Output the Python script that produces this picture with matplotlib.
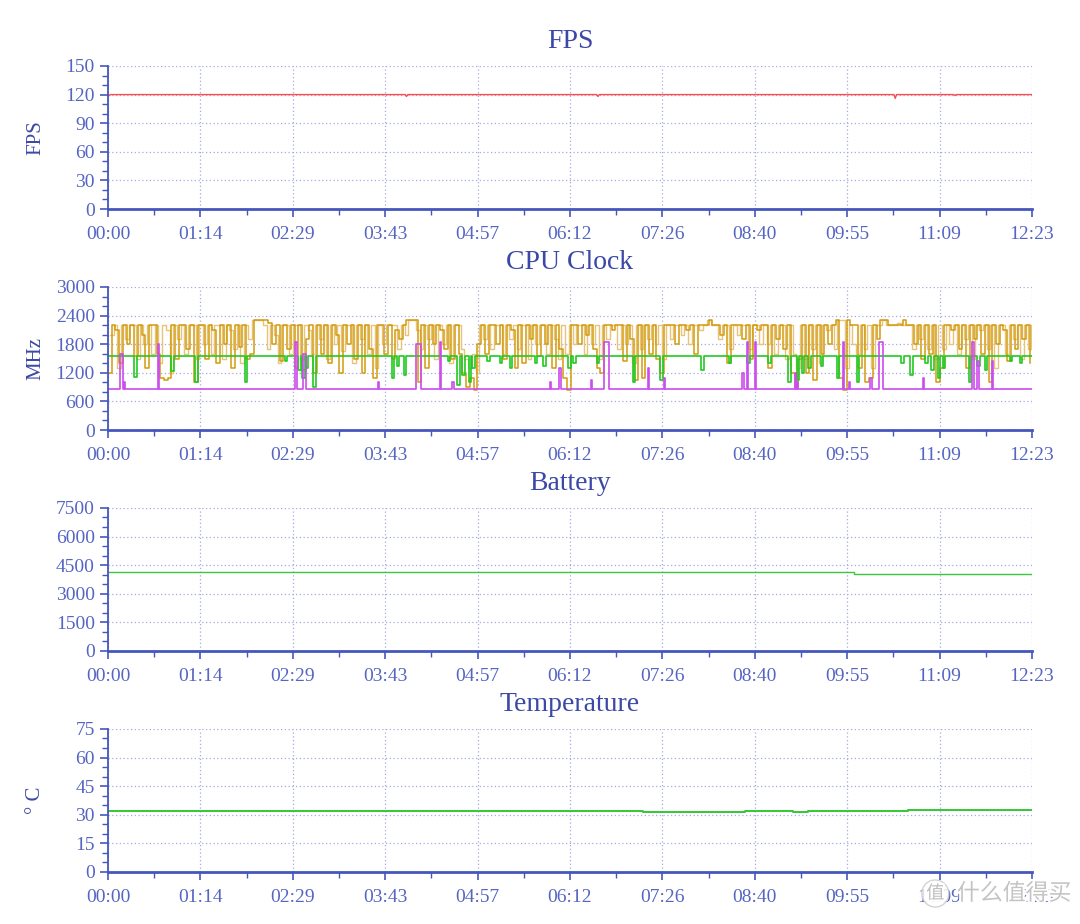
import matplotlib
matplotlib.use("Agg")
import matplotlib.pyplot as plt
import matplotlib.patheffects as pe
from matplotlib.ticker import AutoMinorLocator, MultipleLocator
import numpy as np

# ---- data (seconds since start) ----
duration = 743
x_ticklabels = ["00:00", "01:14", "02:29", "03:43", "04:57", "06:12",
                "07:26", "08:40", "09:55", "11:09", "12:23"]

fps_base = 120
fps_dip_t = [1, 240, 394, 633, 681]
fps_dip_v = [119, 118, 118, 116, 119]

# big core clock, sampled every 3 s
gold_step = 3
gold_v = [
    1200, 2200, 2100, 1400, 2200, 1800, 2200, 1550, 2200, 2000, 1300, 2200, 2200,
    1600, 1100, 1050, 1100, 2200, 1500, 2200, 2200, 1700, 2200, 1000, 2200,
    2200, 1500, 2200, 2100, 1400, 2200, 1800, 2200, 1300, 2200, 1750, 2200, 1500,
    1600, 2300, 2300, 2300, 2300, 2250, 1800, 2200, 1450, 2200, 1700, 2200,
    1300, 2200, 1250, 1900, 2200, 1200, 2200, 1600, 2200, 1400, 2200, 2000, 1200,
    2200, 1800, 2200, 1500, 2200, 1200, 2200, 1700, 1100, 2200, 2200, 1600,
    2200, 1500, 2100, 1900, 2200, 2300, 2300, 2300, 1000, 2200, 1300, 2200, 1800,
    2200, 2100, 1700, 2200, 1500, 2200, 1600, 1200, 900, 1100, 850, 1800,
    2200, 1600, 2200, 2200, 1800, 2200, 1500, 2200, 2100, 1300, 2200, 1400, 2200,
    1900, 2200, 1550, 2200, 1800, 2200, 1300, 2200, 1700, 1100, 850, 2200,
    2200, 1800, 2200, 2000, 2200, 1700, 1300, 1200, 2200, 2200, 2100, 2200, 2200,
    1450, 2200, 1900, 1050, 2200, 1100, 2200, 1600, 2200, 1500, 1200, 2200,
    2200, 2200, 1800, 2200, 2200, 2100, 2200, 1600, 2200, 2200, 2200, 2300, 2200,
    2200, 2000, 2200, 1400, 2200, 2200, 2200, 1900, 2200, 1500, 2200, 2100,
    2200, 2200, 1300, 2200, 1900, 2200, 1700, 2200, 1200, 900, 1500, 2200, 1200,
    2200, 1050, 2200, 1600, 2200, 1800, 2200, 2300, 1100, 850, 2300, 2200,
    2200, 1300, 2200, 1000, 1100, 2200, 1900, 2300, 2300, 2200, 2200, 2200, 2200,
    2300, 2200, 2200, 1800, 2200, 1500, 2200, 1600, 2200, 1000, 1300, 2200,
    2200, 2100, 2200, 1700, 2200, 1300, 2200, 1900, 2200, 1600, 2200, 1000, 2200,
    1800, 2200, 2100, 1450, 2200, 1700, 2200, 1900, 2200, 1400,
]

# second big core (lighter trace), same 3 s step, offset by 1.5 s
tan_offset = 1.5
tan_v = [
    2000, 2200, 1300, 2200, 1900, 2200, 2200, 1500, 2200, 1800, 2200, 1600, 2200,
    1400, 2200, 2100, 1200, 2200, 1900, 2200, 1600, 2200, 2200, 1500, 2200,
    1800, 2200, 1600, 2200, 2200, 1500, 2200, 2100, 1700, 2200, 1400, 2200, 1900,
    2300, 2300, 2300, 2200, 1700, 2200, 2000, 1400, 2200, 2200, 1600, 2200,
    2200, 1500, 2200, 2100, 1600, 2200, 1900, 2200, 1500, 2200, 1800, 2200, 1650,
    2200, 2200, 1400, 2200, 1900, 2200, 1600, 2200, 1300, 2200, 1800, 2200,
    2200, 2200, 1700, 2200, 2000, 2300, 2300, 2100, 1700, 2200, 1900, 2200, 1500,
    2200, 1800, 2200, 1400, 2200, 2200, 1700, 1500, 1300, 1600, 1200, 2200,
    1900, 2200, 1700, 2200, 2200, 1600, 2200, 1900, 2200, 1700, 2200, 2200, 1500,
    2200, 1800, 2200, 2200, 1600, 2200, 1900, 1500, 2200, 1600, 2200, 1800,
    2200, 2200, 1600, 2200, 1800, 2200, 1500, 2200, 1900, 2200, 2200, 1700, 2200,
    1800, 2200, 1400, 2200, 1700, 2200, 1900, 2200, 1800, 2200, 1500, 2200,
    1900, 2200, 2200, 2000, 2200, 1800, 2200, 2200, 2100, 2200, 2300, 2200, 2200,
    1900, 2200, 2200, 1700, 2200, 2000, 2200, 2200, 1700, 2200, 2200, 1800,
    2200, 1800, 2200, 1600, 2200, 2200, 1500, 2200, 1600, 1300, 2200, 1500, 2200,
    1700, 2200, 1400, 2200, 2100, 2200, 1700, 2300, 2300, 1300, 2200, 1800,
    1600, 2200, 1700, 2200, 1300, 2200, 2200, 2300, 2200, 2200, 2200, 2250, 2200,
    2200, 2200, 1700, 2200, 1900, 2200, 1700, 2200, 1500, 2200, 1700, 2200,
    1800, 2200, 1600, 2200, 1900, 2200, 1500, 2200, 2100, 2200, 1700, 2200, 1300,
    2200, 2200, 1600, 2200, 1900, 2200, 1500, 2200, 1700, 2200,
]

green_base = 1555
green_dip_t = [21, 51, 70, 110, 142, 153, 156, 159, 165, 228, 232, 238, 273, 281,
               285, 290, 293, 305, 315, 323, 343, 350, 370, 374, 393, 422, 444,
               477, 499, 514, 531, 547, 554, 558, 563, 573, 586, 602, 638, 645,
               657, 662, 667, 671, 692, 699, 705, 725, 733]
green_dip_v = [1120, 1230, 1010, 1010, 1450, 1250, 1100, 1300, 900, 1100, 1350, 1150,
               1450, 950, 1150, 1000, 1300, 1450, 1400, 1300, 1400, 1350, 1300,
               1400, 1400, 1010, 1050, 1250, 1400, 1400, 1400, 1000, 1050, 1200,
               1300, 1350, 1100, 1000, 1400, 1150, 1400, 1250, 1100, 1300, 1000,
               1350, 1250, 1450, 1400]

magenta_base = 860
magenta_spike_t = [10, 13, 40, 150, 157, 217, 248, 267, 277, 355, 363, 388, 399,
                   434, 447, 510, 514, 520, 552, 554, 591, 596, 613, 620, 655, 695,
                   699, 711]
magenta_spike_v = [1600, 1000, 1800, 1850, 1600, 1000, 1800, 1850, 1000, 1000, 1300,
                   1050, 1840, 1300, 1100, 1200, 1840, 1840, 1200, 1000, 1850, 1000,
                   1100, 1840, 1100, 1840, 1450, 1450]
magenta_spike_d = [2, 1, 1, 2, 2, 1, 4, 1, 1, 1, 1, 1, 4, 1, 1, 1, 1, 1, 1, 1, 1, 1,
                   1, 3, 1, 1, 1, 1]

battery_t = [0, 600, 743]
battery_v = [4120, 4060, 4060]

temp_t = [0, 430, 512, 551, 563, 643, 743]
temp_v = [32.2, 31.6, 32.2, 31.6, 32.2, 32.6, 32.6]

# ---- style ----
TITLE_C = "#3B48A6"
TICK_C = "#5565C2"
SPINE_C = "#4556BC"
GRID_C = "#A3ABE3"
SERIF = ["Liberation Serif", "DejaVu Serif"]


def spike_series(base, t, v, d, end):
    xs, ys = [0], [base]
    for ti, vi, di in zip(t, v, d):
        xs += [ti, ti + di]
        ys += [vi, base]
    xs.append(end)
    ys.append(base)
    return xs, ys


def style_axes(ax, title, ylabel, ymax, ystep):
    ax.set_xlim(0, duration)
    ax.set_ylim(0, ymax)
    ax.set_xticks(np.linspace(0, duration, len(x_ticklabels)))
    ax.set_xticklabels(x_ticklabels)
    ax.xaxis.set_minor_locator(AutoMinorLocator(2))
    ax.yaxis.set_major_locator(MultipleLocator(ystep))
    ax.yaxis.set_minor_locator(AutoMinorLocator(3))
    ax.grid(True, which="major", color=GRID_C, linestyle=(0, (1, 2)), linewidth=0.9)
    for side in ("top", "right"):
        ax.spines[side].set_visible(False)
    ax.spines["left"].set_color(SPINE_C)
    ax.spines["left"].set_linewidth(1.3)
    ax.spines["bottom"].set_color(SPINE_C)
    ax.spines["bottom"].set_linewidth(2.0)
    ax.tick_params(axis="both", which="major", colors=SPINE_C, labelcolor=TICK_C,
                   labelsize=14, length=6, width=1.2)
    ax.tick_params(axis="both", which="minor", colors=SPINE_C, length=4, width=1)
    ax.tick_params(axis="x", which="major", pad=6)
    for lab in ax.get_xticklabels() + ax.get_yticklabels():
        lab.set_family(SERIF)
    ax.set_title(title, fontsize=20, color=TITLE_C, family=SERIF, pad=13)
    if ylabel:
        ax.set_ylabel(ylabel, fontsize=15, color=TITLE_C, family=SERIF)
        ax.yaxis.set_label_coords(-0.068, 0.5)


fig = plt.figure(figsize=(10.8, 9.24), dpi=100)
left, width, height = 0.1, 0.8556, 0.1548
bottoms = [0.7738, 0.5346, 0.2955, 0.0563]
ax_fps, ax_cpu, ax_bat, ax_tmp = [fig.add_axes([left, b, width, height]) for b in bottoms]

# FPS
fx, fy = [0], [fps_base]
for t, v in zip(fps_dip_t, fps_dip_v):
    fx += [t - 1, t, t + 1]
    fy += [fps_base, v, fps_base]
fx.append(duration)
fy.append(fps_base)
ax_fps.plot(fx, fy, color="#FF4B4B", lw=1.0)
style_axes(ax_fps, "FPS", "FPS", 150, 30)

# CPU clock
tan_t = np.arange(len(tan_v)) * gold_step + tan_offset
ax_cpu.step(tan_t, tan_v, where="post", color="#E6C479", lw=1.0)
gold_t = np.arange(len(gold_v)) * gold_step
ax_cpu.step(gold_t, gold_v, where="post", color="#D39A0C", lw=1.1)
gx, gy = spike_series(green_base, green_dip_t, green_dip_v, [2] * len(green_dip_t), duration)
ax_cpu.step(gx, gy, where="post", color="#22C822", lw=1.2)
mx, my = spike_series(magenta_base, magenta_spike_t, magenta_spike_v, magenta_spike_d, duration)
ax_cpu.step(mx, my, where="post", color="#CC4CEC", lw=1.2)
style_axes(ax_cpu, "CPU Clock", "MHz", 3000, 600)

# Battery
ax_bat.step(battery_t, battery_v, where="post", color="#3CC83C", lw=1.0)
style_axes(ax_bat, "Battery", None, 7500, 1500)

# Temperature
ax_tmp.step(temp_t, temp_v, where="post", color="#33C833", lw=1.4)
style_axes(ax_tmp, "Temperature", "\u00b0 C", 75, 15)

# site watermark
wm_font = ["Noto Sans CJK SC", "DejaVu Sans"]
halo = [pe.withStroke(linewidth=3, foreground="white")]
fig.text(0.866, 0.033, "值", fontsize=13, color="#BDBDBD", family=wm_font,
         ha="center", va="center", path_effects=halo,
         bbox=dict(boxstyle="circle,pad=0.25", fc="white", ec="#C8C8C8", alpha=0.8))
fig.text(0.886, 0.033, "什么值得买", fontsize=16.5, color="#C4C4C4", family=wm_font,
         ha="left", va="center", path_effects=halo)

fig.savefig("out.png", dpi=100)
